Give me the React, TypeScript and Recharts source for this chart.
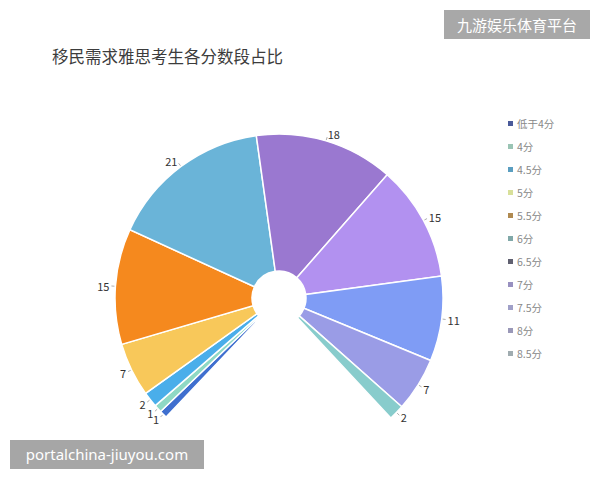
import React from 'react';
import { PieChart, Pie, Cell, Legend } from 'recharts';

const categories = ['低于4分', '4分', '4.5分', '5分', '5.5分', '6分', '6.5分', '7分', '7.5分', '8分', '8.5分'];
const shares = [1, 1, 2, 7, 15, 21, 18, 15, 11, 7, 2];

const sliceColors = [
  '#3f6fcf', '#8fd9c4', '#4aaeea', '#f8c85a', '#f5891e', '#6ab4d8',
  '#9a78d0', '#b291f0', '#7f9cf5', '#9a9ce6', '#88cccc',
];
// legend swatches look washed out in the picture
const legendColors = [
  '#4a5a9a', '#9ac4b4', '#5a9ec0', '#d8e09a', '#b08a50', '#80a8a8',
  '#606070', '#9890c0', '#a0a0c8', '#9a98b8', '#a0acb0',
];

const data = categories.map((name, i) => ({ name, value: shares[i] }));

const RADIAN = Math.PI / 180;
const FONT = '"Noto Sans CJK SC", "Noto Sans", sans-serif';

const renderLabel = (props: any) => {
  const { cx, cy, midAngle, outerRadius, value } = props;
  const cos = Math.cos(-midAngle * RADIAN);
  const sin = Math.sin(-midAngle * RADIAN);
  const x1 = cx + (outerRadius + 1) * cos;
  const y1 = cy + (outerRadius + 1) * sin;
  const x2 = cx + (outerRadius + 4) * cos;
  const y2 = cy + (outerRadius + 4) * sin;
  const tx = cx + (outerRadius + 6) * cos;
  const ty = cy + (outerRadius + 7) * sin;
  return (
    <g>
      <line x1={x1} y1={y1} x2={x2} y2={y2} stroke="#999" strokeWidth={0.8} />
      <text
        x={tx}
        y={ty}
        fill="#333"
        fontSize={11}
        fontFamily={FONT}
        textAnchor={cos >= 0 ? 'start' : 'end'}
        dominantBaseline="central"
      >
        {value}
      </text>
    </g>
  );
};

const renderLegend = () => (
  <div style={{ fontFamily: FONT }}>
    {categories.map((name, i) => (
      <div
        key={name}
        style={{ display: 'flex', alignItems: 'center', height: 23, fontSize: 10.5, color: '#888' }}
      >
        <span
          style={{ width: 5, height: 5, background: legendColors[i], marginRight: 4, display: 'inline-block' }}
        />
        {name}
      </div>
    ))}
  </div>
);

export default function App(): React.JSX.Element {
  return (
    <div
      style={{
        position: 'absolute',
        left: 0,
        top: 0,
        width: 600,
        height: 480,
        background: '#fff',
        fontFamily: FONT,
        overflow: 'hidden',
      }}
    >
      <div
        style={{
          position: 'absolute',
          left: 52,
          top: 44,
          fontSize: 16.5,
          color: '#3c3c3c',
          lineHeight: '24px',
          whiteSpace: 'nowrap',
        }}
      >
        移民需求雅思考生各分数段占比
      </div>
      <PieChart width={600} height={480}>
        <Pie
          data={data}
          dataKey="value"
          nameKey="name"
          cx={274}
          cy={293}
          innerRadius={27}
          outerRadius={164}
          startAngle={226.5}
          endAngle={-47}
          stroke="#fff"
          strokeWidth={1.5}
          label={renderLabel}
          labelLine={false}
          isAnimationActive={false}
        >
          {data.map((d, i) => (
            <Cell key={d.name} fill={sliceColors[i]} />
          ))}
        </Pie>
        <Legend
          layout="vertical"
          content={renderLegend}
          wrapperStyle={{ position: 'absolute', left: 508, top: 112, width: 90 }}
        />
      </PieChart>
      <div
        style={{
          position: 'absolute',
          left: 444,
          top: 10,
          width: 146,
          height: 29,
          background: '#a8a8a8',
          color: '#fff',
          fontSize: 15,
          lineHeight: '29px',
          textAlign: 'center',
        }}
      >
        九游娱乐体育平台
      </div>
      <div
        style={{
          position: 'absolute',
          left: 10,
          top: 440,
          width: 194,
          height: 29,
          background: '#a6a6a6',
          color: '#fff',
          fontSize: 15,
          lineHeight: '29px',
          textAlign: 'center',
          fontFamily: '"Noto Sans", sans-serif',
        }}
      >
        portalchina-jiuyou.com
      </div>
    </div>
  );
}
